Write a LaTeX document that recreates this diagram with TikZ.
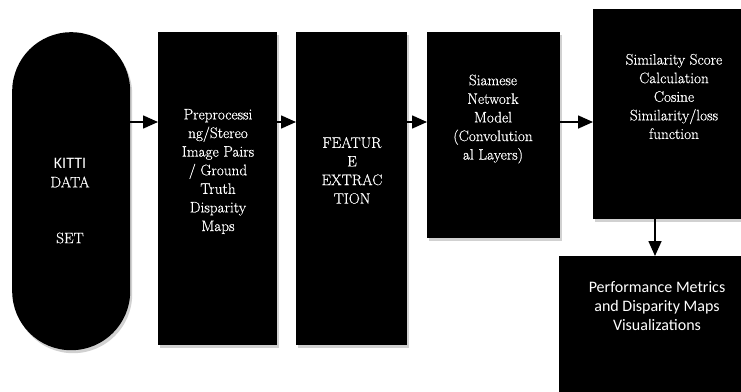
\documentclass[tikz,border=0pt]{standalone}
\usepackage{fontspec}
\newfontfamily\serfont[FakeBold=0.5]{Latin Modern Roman}
\newfontfamily\calfont{Carlito}
\usetikzlibrary{arrows.meta,shadows}
\begin{document}
\begin{tikzpicture}[x=1pt,y=-1pt,
  blk/.style={draw=none,fill=black,inner sep=0pt,anchor=north west,
    drop shadow={shadow xshift=2pt,shadow yshift=-3pt,opacity=0.18,fill=black}},
  txt/.style={text=white,align=center,inner sep=0pt,font=\serfont\fontsize{15.2}{18.6}\selectfont},
  stxt/.style={text=white,align=center,inner sep=0pt,font=\calfont\fontsize{16}{19}\selectfont},
  arr/.style={line width=1.6pt,-{Triangle[length=15pt,width=13pt]}}]
\useasboundingbox (0,0) rectangle (741,391);
\begin{scope}
\clip (0,0) rectangle (741,391);
% blocks
\node[blk,rounded corners=59pt,minimum width=118pt,minimum height=318pt] (kitti) at (12,32) {};
\node[blk,minimum width=119pt,minimum height=313pt] (pre) at (158,32) {};
\node[blk,minimum width=111pt,minimum height=313pt] (feat) at (296,32) {};
\node[blk,minimum width=133pt,minimum height=206pt] (siam) at (427,32) {};
\node[blk,minimum width=162pt,minimum height=210pt] (sim) at (593,9) {};
\node[blk,minimum width=196pt,minimum height=150pt] (perf) at (559,256) {};
\end{scope}
% texts
\node[stxt] (kittiA) at (70,163) {KITTI};
\node[txt] (kittiB) at (70,182) {DATA};
\node[txt] (kittiC) at (70,238) {SET};
\node[txt] (preT) at (218,171.5) {Preprocessi\\ng/Stereo\\Image Pairs\\/ Ground\\Truth\\Disparity\\Maps};
\node[txt] (featT) at (352,170.5) {FEATUR\\E\\EXTRAC\\TION};
\node[txt] (siamT) at (493,119) {Siamese\\Network\\Model\\(Convolution\\al Layers)};
\node[txt] (simT) at (674,96.5) {Similarity Score\\Calculation\\Cosine\\Similarity/loss\\function};
\node[stxt] (perfT) at (657,306) {Performance Metrics\\and Disparity Maps\\Visualizations};
% connectors
\coordinate (row) at (0,122);
\coordinate (col) at (655,0);
\draw[arr] (kitti.east |- row) -- (pre.west |- row);
\draw[arr] (pre.east |- row) -- (feat.west |- row);
\draw[arr] (feat.east |- row) -- (siam.west |- row);
\draw[arr] (siam.east |- row) -- (sim.west |- row);
\draw[arr] (sim.south -| col) -- (perf.north -| col);
\end{tikzpicture}
\end{document}
